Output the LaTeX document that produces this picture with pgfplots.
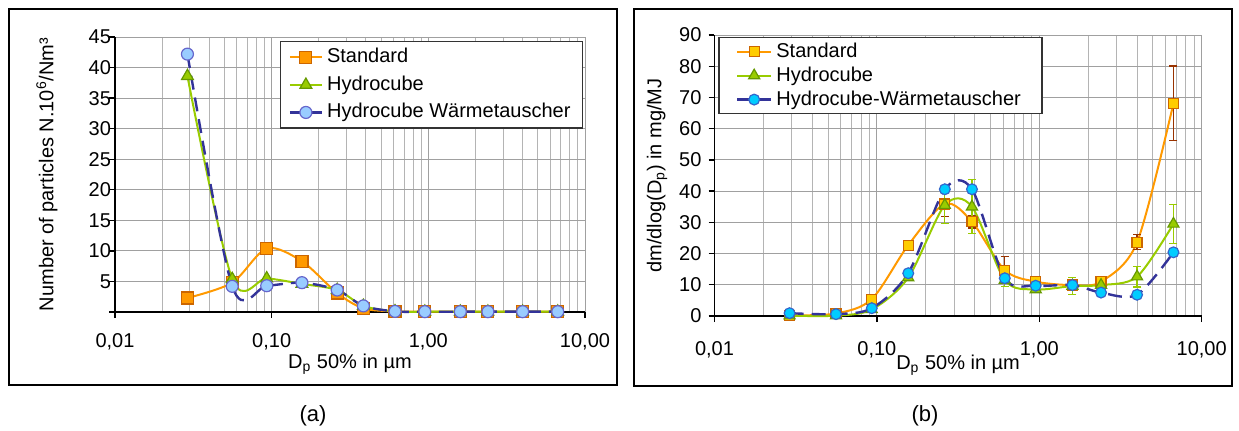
\documentclass[border=0pt]{standalone}
\usepackage{fontspec}
\setmainfont{Liberation Sans}
\usepackage{pgfplots}
\pgfplotsset{compat=1.18}

\definecolor{cOrange}{HTML}{FF9900}
\definecolor{cOrangeEdge}{HTML}{CC6600}
\definecolor{cGold}{HTML}{FFCC00}
\definecolor{cGreen}{HTML}{99CC00}
\definecolor{cGreenEdge}{HTML}{669900}
\definecolor{cBlue}{HTML}{333399}
\definecolor{cLightBlue}{HTML}{99CCFF}
\definecolor{cLightBlueEdge}{HTML}{6666CC}
\definecolor{cCyan}{HTML}{00CCFF}
\definecolor{cCyanEdge}{HTML}{3366CC}
\definecolor{cErrBrown}{HTML}{993300}
\definecolor{cGridMaj}{HTML}{A0A0A0}
\definecolor{cGridMin}{HTML}{B4B4B4}

\begin{document}
\begin{tikzpicture}
\path[use as bounding box] (0pt,0pt) rectangle (619.5pt,215pt);
\draw[line width=1pt] (4.5pt,22.75pt) rectangle (308.5pt,210.5pt);
\draw[line width=1pt] (317pt,22.25pt) rectangle (616pt,210.5pt);
\node[font=\fontsize{11}{13}\selectfont] at (156.5pt,7pt) {(a)};
\node[font=\fontsize{11}{13}\selectfont] at (462.5pt,7pt) {(b)};

% ---------------- panel (a) ----------------
\begin{axis}[
  xmode=log,
  scale only axis,
  at={(57.5pt,59pt)}, anchor=south west, width=235pt, height=137.5pt,
  xmin=0.01, xmax=10,
  xtick={0.01,0.1,1,10},
  xticklabels={{0,01},{0,10},{1,00},{10,00}},
  minor xtick={0.02,0.03,0.04,0.05,0.06,0.07,0.08,0.09,0.2,0.3,0.4,0.5,0.6,0.7,0.8,0.9,2,3,4,5,6,7,8,9},
  grid=both,
  major grid style={cGridMaj, line width=0.5pt},
  minor grid style={cGridMin, line width=0.5pt},
  axis x line*=bottom,
  axis y line*=left,
  axis line style={black, line width=0.7pt},
  tick align=outside,
  major tick length=3pt,
  minor tick length=0pt,
  tick style={black, line width=0.7pt},
  tick label style={font=\fontsize{10}{12}\selectfont},
  yticklabel style={xshift=4.5pt},
  xticklabel style={yshift=-4pt},
  label style={font=\fontsize{10}{12}\selectfont},
  xlabel={D\textsubscript{p} 50\% in µm},
  clip=false,
  legend cell align=left,
  legend image code/.code={\draw[mark repeat=2,mark phase=2,#1] plot coordinates {(0pt,0pt) (8pt,0pt) (16pt,0pt)};},
  ymin=0, ymax=45,
  ytick={0,5,10,15,20,25,30,35,40,45},
  yticklabels={,5,10,15,20,25,30,35,40,45},
  ylabel={Number of particles N.10\textsuperscript{6}/Nm³},
  ylabel style={at={(axis description cs:-0.145,0.5)}, anchor=center},
  xlabel style={at={(axis description cs:0.5,-0.19)}, anchor=center},
  legend style={font=\fontsize{10}{12}\selectfont, draw=black!80, line width=0.6pt, fill=white,
    inner xsep=4pt, inner ysep=1pt,
    at={(axis description cs:0.996,0.985)}, anchor=north east,
    nodes={text height=7.5pt, text depth=2pt, inner ysep=2pt}, row sep=0.3pt},
]
\addplot[cOrange, line width=1pt, smooth, mark=square*,
  mark options={fill=cOrange, draw=cOrangeEdge, line width=0.6pt, mark size=3pt}]
  coordinates {(0.029,2.3) (0.056,4.8) (0.093,10.4) (0.156,8.3) (0.262,3.1) (0.385,0.6)
               (0.613,0.1) (0.95,0.05) (1.60,0.05) (2.40,0.05) (4.00,0.05) (6.70,0.05)};
\addlegendentry{Standard}
\addplot[cGreen, line width=1pt, smooth, mark=triangle*,
  mark options={fill=cGreen, draw=cGreenEdge, line width=0.6pt, mark size=3.4pt}]
  coordinates {(0.029,38.6) (0.056,5.4) (0.093,5.5) (0.156,4.6) (0.262,3.6) (0.385,1.0)
               (0.613,0.1) (0.95,0.05) (1.60,0.05) (2.40,0.05) (4.00,0.05) (6.70,0.05)};
\addlegendentry{Hydrocube}
\addplot[cBlue, line width=1.2pt, smooth, dash pattern=on 7pt off 4pt, mark=*,
  mark options={solid, fill=cLightBlue, draw=cLightBlueEdge, line width=0.6pt, mark size=3pt}]
  coordinates {(0.029,42.2) (0.056,4.2) (0.093,4.3) (0.156,4.8) (0.262,3.6) (0.385,1.0)
               (0.613,0.1) (0.95,0.05) (1.60,0.05) (2.40,0.05) (4.00,0.05) (6.70,0.05)};
\addlegendentry{Hydrocube Wärmetauscher}
\end{axis}

% ---------------- panel (b) ----------------
\begin{axis}[
  xmode=log,
  scale only axis,
  at={(357.25pt,57pt)}, anchor=south west, width=243.6pt, height=140.5pt,
  xmin=0.01, xmax=10,
  xtick={0.01,0.1,1,10},
  xticklabels={{0,01},{0,10},{1,00},{10,00}},
  minor xtick={0.02,0.03,0.04,0.05,0.06,0.07,0.08,0.09,0.2,0.3,0.4,0.5,0.6,0.7,0.8,0.9,2,3,4,5,6,7,8,9},
  grid=both,
  major grid style={cGridMaj, line width=0.5pt},
  minor grid style={cGridMin, line width=0.5pt},
  axis x line*=bottom,
  axis y line*=left,
  axis line style={black, line width=0.7pt},
  tick align=outside,
  major tick length=3pt,
  minor tick length=0pt,
  tick style={black, line width=0.7pt},
  tick label style={font=\fontsize{10}{12}\selectfont},
  xticklabel style={yshift=-6pt},
  label style={font=\fontsize{10}{12}\selectfont},
  xlabel={D\textsubscript{p} 50\% in µm},
  clip=false,
  legend cell align=left,
  legend image code/.code={\draw[mark repeat=2,mark phase=2,#1] plot coordinates {(0pt,0pt) (8.5pt,0pt) (17pt,0pt)};},
  ymin=0, ymax=90,
  ytick={0,10,20,30,40,50,60,70,80,90},
  yticklabels={0,10,20,30,40,50,60,70,80,90},
  ylabel={dm/dlog(D\textsubscript{p}) in mg/MJ},
  ylabel style={at={(axis description cs:-0.118,0.5)}, anchor=center},
  xlabel style={at={(axis description cs:0.5,-0.175)}, anchor=center},
  legend style={font=\fontsize{10}{12}\selectfont, draw=black!80, line width=0.6pt, fill=white,
    inner xsep=8.5pt, inner ysep=1pt,
    at={(axis description cs:0.008,0.993)}, anchor=north west,
    nodes={text height=7.5pt, text depth=2pt, inner ysep=1.25pt}, row sep=0pt},
]
\addplot[cOrange, line width=1pt, smooth, mark=square*,
  mark options={fill=cGold, draw=cOrangeEdge, line width=0.6pt, mark size=2.5pt},
  error bars/.cd, y dir=both, y explicit,
  error bar style={cErrBrown, line width=0.6pt, solid},
  error mark options={cErrBrown, line width=0.6pt, mark size=2pt, rotate=90}]
  coordinates {(0.029,0.2) +- (0,0.2) (0.056,0.8) +- (0,0.3) (0.093,5.4) +- (0,0.8)
               (0.156,22.7) +- (0,1) (0.262,35.9) +- (0,4.1) (0.385,30.2) +- (0,2)
               (0.613,14.7) +- (0,4.3) (0.95,11.0) +- (0,1) (1.60,9.9) +- (0,1)
               (2.40,11.0) +- (0,1) (4.00,23.6) +- (0,2.4) (6.70,68.1) +- (0,12)};
\addlegendentry{Standard}
\addplot[cGreen, line width=1pt, smooth, mark=triangle*,
  mark options={fill=cGreen, draw=cGreenEdge, line width=0.6pt, mark size=3.2pt},
  error bars/.cd, y dir=both, y explicit,
  error bar style={cGreen, line width=0.6pt, solid},
  error mark options={cGreen, line width=0.6pt, mark size=2pt, rotate=90}]
  coordinates {(0.029,0.1) +- (0,0.1) (0.056,0.1) +- (0,0.1) (0.093,2.1) +- (0,0.5)
               (0.156,12.3) +- (0,1) (0.262,35.5) +- (0,5.8) (0.385,35.0) +- (0,8.7)
               (0.613,11.5) +- (0,2.1) (0.95,8.5) +- (0,1) (1.60,9.6) +- (0,2.7)
               (2.40,9.9) +- (0,1) (4.00,12.6) +- (0,3.3) (6.70,29.5) +- (0,6.3)};
\addlegendentry{Hydrocube}
\addplot[cBlue, line width=1.2pt, smooth, dash pattern=on 7pt off 4pt, mark=*,
  mark options={solid, fill=cCyan, draw=cCyanEdge, line width=0.6pt, mark size=2.7pt}]
  coordinates {(0.029,0.9) (0.056,0.6) (0.093,2.5) (0.156,13.7) (0.262,40.6) (0.385,40.6)
               (0.613,12.1) (0.95,9.7) (1.60,9.9) (2.40,7.5) (4.00,6.8) (6.70,20.4)};
\addlegendentry{Hydrocube-Wärmetauscher}
\end{axis}
\end{tikzpicture}
\end{document}
